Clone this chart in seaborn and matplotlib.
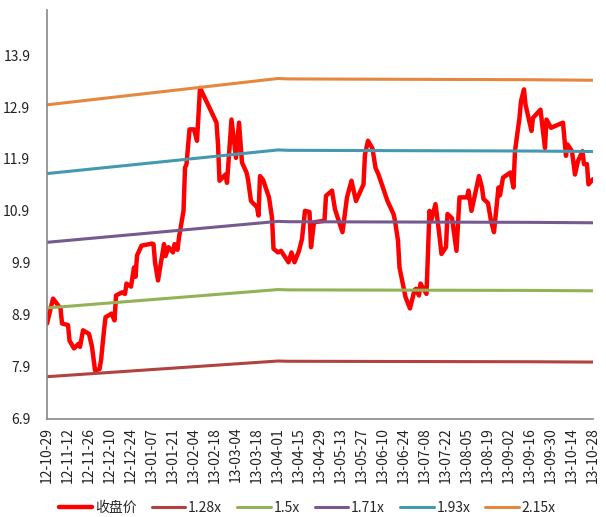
"""PB band chart: close price vs. book-value multiples"""

import matplotlib
matplotlib.use("Agg")
from matplotlib import pyplot as plt
import matplotlib.dates as mdates
import pandas as pd
import seaborn as sns

# closing price
close_dates = [
    "2012-10-29", "2012-11-02", "2012-11-07", "2012-11-08", "2012-11-12", "2012-11-13",
    "2012-11-16", "2012-11-19", "2012-11-20", "2012-11-22", "2012-11-26", "2012-11-28",
    "2012-11-30", "2012-12-03", "2012-12-04", "2012-12-06", "2012-12-07", "2012-12-11",
    "2012-12-13", "2012-12-14", "2012-12-18", "2012-12-20", "2012-12-21", "2012-12-24",
    "2012-12-26", "2012-12-27", "2012-12-28", "2012-12-31", "2013-01-07", "2013-01-08",
    "2013-01-09", "2013-01-11", "2013-01-15", "2013-01-16", "2013-01-18", "2013-01-21",
    "2013-01-22", "2013-01-24", "2013-01-25", "2013-01-28", "2013-01-29", "2013-01-30",
    "2013-02-01", "2013-02-04", "2013-02-06", "2013-02-08", "2013-02-19", "2013-02-20",
    "2013-02-21", "2013-02-25", "2013-02-26", "2013-03-01", "2013-03-04", "2013-03-06",
    "2013-03-08", "2013-03-11", "2013-03-12", "2013-03-14", "2013-03-18", "2013-03-19",
    "2013-03-20", "2013-03-22", "2013-03-26", "2013-03-28", "2013-03-29", "2013-04-01",
    "2013-04-03", "2013-04-08", "2013-04-10", "2013-04-12", "2013-04-15", "2013-04-17",
    "2013-04-19", "2013-04-22", "2013-04-23", "2013-04-25", "2013-05-02", "2013-05-03",
    "2013-05-07", "2013-05-09", "2013-05-10", "2013-05-14", "2013-05-17", "2013-05-20",
    "2013-05-23", "2013-05-28", "2013-05-29", "2013-05-31", "2013-06-03", "2013-06-05",
    "2013-06-07", "2013-06-13", "2013-06-17", "2013-06-18", "2013-06-20", "2013-06-21",
    "2013-06-25", "2013-06-28", "2013-07-01", "2013-07-02", "2013-07-04", "2013-07-05",
    "2013-07-09", "2013-07-11", "2013-07-12", "2013-07-15", "2013-07-17", "2013-07-19",
    "2013-07-22", "2013-07-23", "2013-07-26", "2013-07-29", "2013-07-31", "2013-08-05",
    "2013-08-06", "2013-08-08", "2013-08-13", "2013-08-15", "2013-08-16", "2013-08-19",
    "2013-08-21", "2013-08-23", "2013-08-26", "2013-08-27", "2013-08-29", "2013-09-03",
    "2013-09-05", "2013-09-06", "2013-09-09", "2013-09-10", "2013-09-12", "2013-09-13",
    "2013-09-17", "2013-09-18", "2013-09-23", "2013-09-26", "2013-09-27", "2013-09-30",
    "2013-10-08", "2013-10-10", "2013-10-11", "2013-10-14", "2013-10-16", "2013-10-18",
    "2013-10-21", "2013-10-22", "2013-10-24", "2013-10-25", "2013-10-28",
]
close_values = [
    8.73, 9.21, 9.02, 8.73, 8.70, 8.40,
    8.25, 8.34, 8.28, 8.60, 8.53, 8.28,
    7.83, 7.85, 8.02, 8.60, 8.85, 8.92,
    8.79, 9.27, 9.33, 9.30, 9.50, 9.44,
    9.81, 9.63, 10.04, 10.23, 10.27, 10.26,
    9.91, 9.56, 10.26, 10.03, 10.20, 10.10,
    10.26, 10.15, 10.39, 10.90, 11.73, 11.80,
    12.47, 12.47, 12.25, 13.27, 12.60, 12.18,
    11.48, 11.60, 11.44, 12.66, 11.92, 12.60,
    11.83, 11.64, 11.51, 11.09, 10.97, 10.81,
    11.57, 11.50, 11.16, 10.77, 10.17, 10.10,
    10.13, 9.91, 10.10, 9.91, 10.13, 10.36,
    10.90, 10.88, 10.20, 10.68, 10.71, 11.19,
    11.29, 10.93, 10.84, 10.49, 11.16, 11.48,
    11.09, 11.41, 11.99, 12.25, 12.10, 11.73,
    11.60, 11.09, 10.84, 10.71, 10.33, 9.81,
    9.24, 9.02, 9.37, 9.40, 9.27, 9.50,
    9.30, 10.90, 10.70, 11.03, 10.58, 10.07,
    10.20, 10.84, 10.76, 10.13, 11.16, 11.16,
    11.29, 10.90, 11.57, 11.35, 11.13, 11.05,
    10.71, 10.49, 11.35, 11.20, 11.54, 11.64,
    11.35, 12.05, 12.69, 13.01, 13.24, 12.95,
    12.44, 12.69, 12.85, 12.11, 12.66, 12.50,
    12.60, 11.96, 12.18, 12.05, 11.60, 11.86,
    12.05, 11.80, 11.80, 11.41, 11.51,
]

# book value per share behind the bands
bvps_dates = ["2012-10-29", "2013-04-01", "2013-04-08", "2013-09-16", "2013-10-28"]
bvps_values = [6.02, 6.256, 6.252, 6.245, 6.24]

multiples = [1.28, 1.5, 1.71, 1.93, 2.15]
band_labels = ["1.28x", "1.5x", "1.71x", "1.93x", "2.15x"]
band_colors = ["#B0423F", "#93B255", "#76598F", "#4399AF", "#E5873E"]

yticks = [6.9, 7.9, 8.9, 9.9, 10.9, 11.9, 12.9, 13.9]

sns.set_style("white")
plt.rcParams["font.family"] = ["Liberation Sans Narrow", "Noto Sans CJK SC", "DejaVu Sans"]

close = pd.DataFrame({"date": pd.to_datetime(close_dates), "value": close_values})
bvps = pd.DataFrame({"date": pd.to_datetime(bvps_dates), "bvps": bvps_values})

fig = plt.figure(figsize=(6.06, 5.17), dpi=100)
ax = fig.add_axes([0.0776, 0.1905, 0.9009, 0.7902])

sns.lineplot(data=close, x="date", y="value", color="#FF0000", linewidth=3.2,
             label="收盘价", ax=ax, legend=False)
for m, lab, col in zip(multiples, band_labels, band_colors):
    band = bvps.assign(value=bvps["bvps"] * m)
    sns.lineplot(data=band, x="date", y="value", color=col, linewidth=2.2,
                 label=lab, ax=ax, legend=False)

ax.set_xlim(pd.Timestamp("2012-10-29"), pd.Timestamp("2013-10-28"))
ax.set_ylim(6.9, 14.77)
ax.set_yticks(yticks)
ax.set_yticklabels([f"{v:.1f}" for v in yticks])
ax.set_xticks(pd.date_range("2012-10-29", "2013-10-28", freq="14D"))
ax.xaxis.set_major_formatter(mdates.DateFormatter("%y-%m-%d"))
ax.set_xlabel("")
ax.set_ylabel("")

for side in ["top", "right"]:
    ax.spines[side].set_visible(False)
for side in ["left", "bottom"]:
    ax.spines[side].set_color("#888888")
    ax.spines[side].set_linewidth(1.2)

ax.tick_params(axis="both", direction="in", length=3, width=1, color="#888888",
               labelcolor="#222222")
ax.tick_params(axis="x", labelrotation=90, labelsize=10, pad=6)
ax.tick_params(axis="y", labelsize=10, pad=12)

handles, labels = ax.get_legend_handles_labels()
fig.legend(handles, labels, loc="center", bbox_to_anchor=(0.507, 0.018), ncol=6,
           frameon=False, fontsize=10, handlelength=2.4, handletextpad=0.2,
           columnspacing=1.1)

fig.savefig("out.png", dpi=100)
